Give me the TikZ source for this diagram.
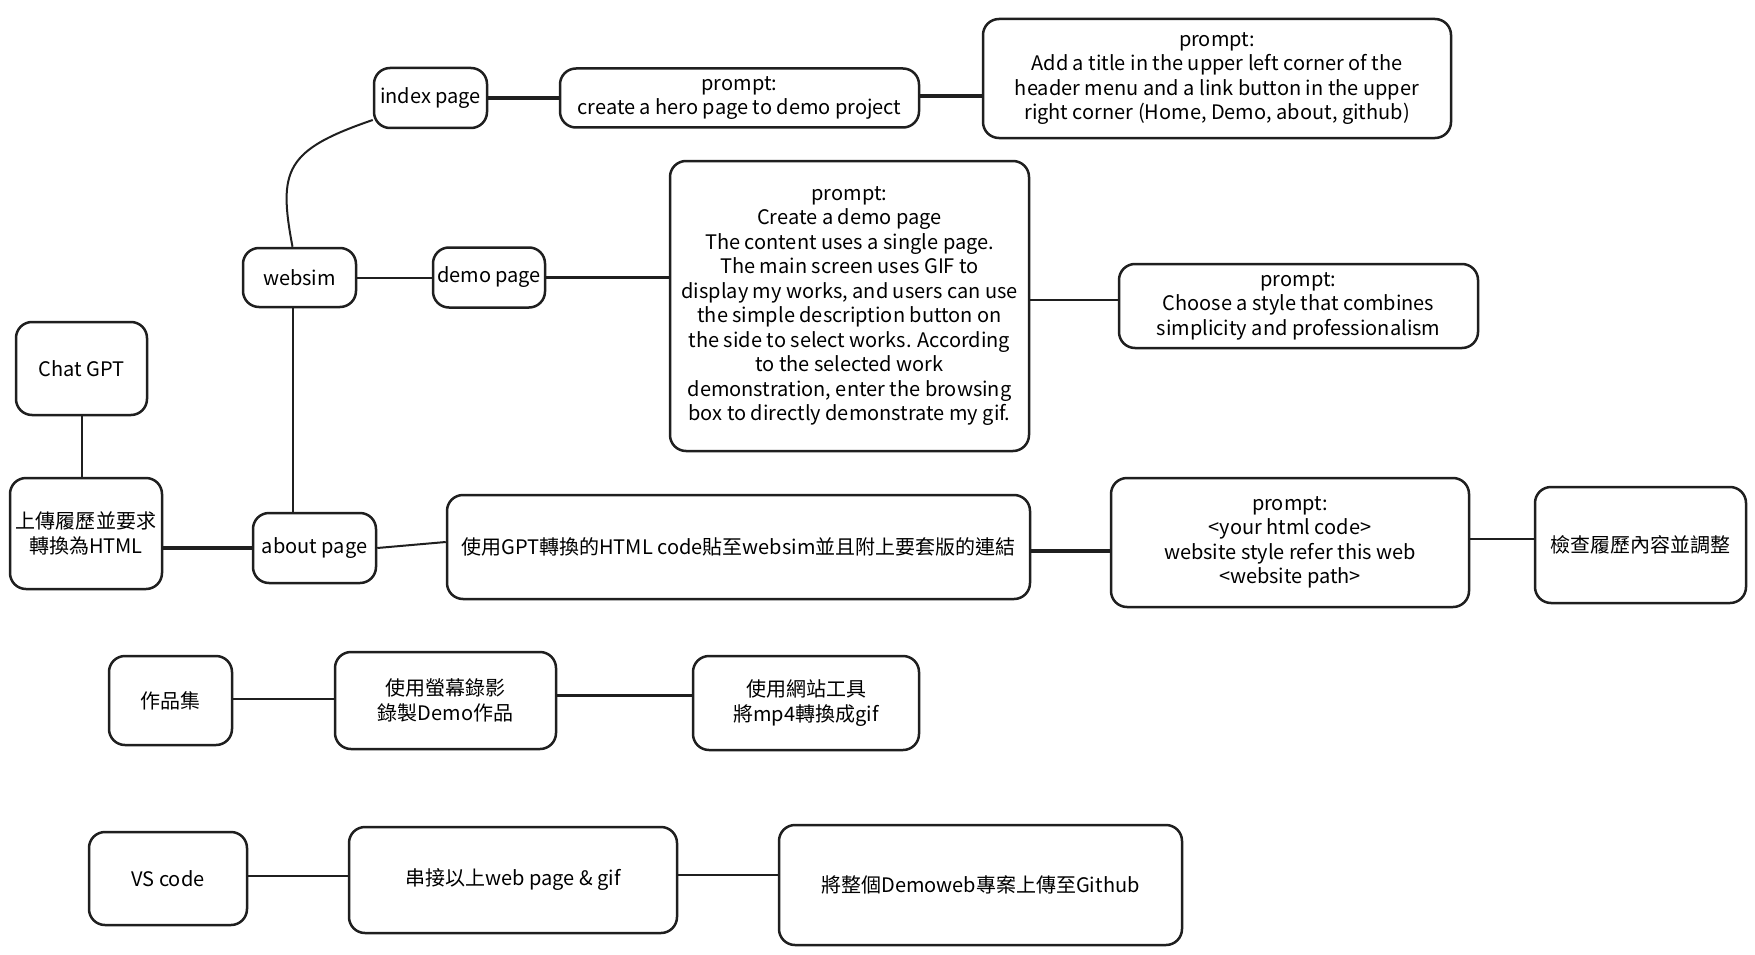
\documentclass[tikz,border=0pt]{standalone}
\usepackage{fontspec}
\setmainfont{Noto Sans CJK TC}
\usepackage{tikz}
\usetikzlibrary{positioning}

\begin{document}
\begin{tikzpicture}[x=1pt, y=-1pt,
        box/.style={rectangle, rounded corners=16pt, draw=black!88, line width=2.5pt, align=center, inner sep=0pt, font=\fontsize{20}{24.5}\selectfont},
        wire/.style={draw=black!88, line width=2pt},
        thickwire/.style={draw=black!88, line width=3.5pt}
      ]
        \useasboundingbox (0,0) rectangle (1755,955);

        \node[box, minimum width=113pt, minimum height=60pt]   (index)     at (430.5,98)     {index page};
        \node[box, minimum width=359pt, minimum height=59pt]   (hero)      [right of=index, node distance=309pt]  {prompt:\\create a hero page to demo project};
        \node[box, minimum width=468pt, minimum height=119pt]  (title)     at (1217,78.5)    {prompt:\\Add a title in the upper left corner of the\\header menu and a link button in the upper\\right corner (Home, Demo, about, github)};

        \node[box, minimum width=113pt, minimum height=59pt]   (websim)    at (299.5,277.5)  {websim};
        \node[box, minimum width=112pt, minimum height=60pt]   (demo)      [right of=websim, node distance=189.5pt]  {demo page};
        \node[box, minimum width=359pt, minimum height=290pt]  (demoprompt) at (849.5,306)   {prompt:\\Create a demo page\\The content uses a single page.\\The main screen uses GIF to\\display my works, and users can use\\the simple description button on\\the side to select works. According\\to the selected work\\demonstration, enter the browsing\\box to directly demonstrate my gif.};
        \node[box, minimum width=359pt, minimum height=84pt]   (style)     [right of=demoprompt, node distance=449pt]  {prompt:\\Choose a style that combines\\simplicity and professionalism};

        \node[box, minimum width=131pt, minimum height=93pt]   (chatgpt)   at (81.5,368.5)   {Chat GPT};
        \node[box, minimum width=152pt, minimum height=111pt]  (upload)    at (86,533.5)     {上傳履歷並要求\\轉換為HTML};
        \node[box, minimum width=123pt, minimum height=70pt]   (about)     at (314.5,548)    {about page};
        \node[box, minimum width=583pt, minimum height=104pt]  (paste)     at (738.5,547)    {使用GPT轉換的HTML code貼至websim並且附上要套版的連結};
        \node[box, minimum width=358pt, minimum height=129pt]  (refer)     at (1290,542.5)   {prompt:\\\textless your html code\textgreater\\website style refer this web\\\textless website path\textgreater};
        \node[box, minimum width=211pt, minimum height=116pt]  (check)     at (1640.5,545)   {檢查履歷內容並調整};

        \node[box, minimum width=123pt, minimum height=89pt]   (works)     at (170.5,700.5)  {作品集};
        \node[box, minimum width=221pt, minimum height=97pt]   (record)    [right of=works, node distance=275pt]  {使用螢幕錄影\\錄製Demo作品};
        \node[box, minimum width=226pt, minimum height=94pt]   (convert)   at (806,703)      {使用網站工具\\將mp4轉換成gif};

        \node[box, minimum width=158pt, minimum height=93pt]   (vscode)    at (168,878.5)    {VS code};
        \node[box, minimum width=328pt, minimum height=106pt]  (combine)   at (513,880)      {串接以上web page \& gif};
        \node[box, minimum width=403pt, minimum height=120pt]  (github)    at (980.5,885)    {將整個Demoweb專案上傳至Github};

        \draw[thickwire] (index.east) -- (index.east -| hero.west);
        \draw[thickwire] ([yshift=2pt]hero.east) -- ([yshift=2pt]hero.east -| title.west);
        \draw[wire] ([xshift=-7pt]websim.north) .. controls (278,170) and (285,150) .. ([yshift=-22pt]index.west);
        \draw[wire] (websim.east) -- (demo.west);
        \draw[thickwire] (demo.east) -- (demo.east -| demoprompt.west);
        \draw[wire] ([yshift=6pt]demoprompt.east) -- ([yshift=6pt]style.west);
        \draw[wire] ([xshift=-7pt]websim.south) -- ([xshift=-7pt]websim.south |- about.north);
        \draw[wire] (chatgpt.south) -- (chatgpt.south |- upload.north);
        \draw[thickwire] (about.west -| upload.east) -- (about.west);
        \draw[wire] (about.east) -- ([yshift=5pt]paste.west);
        \draw[thickwire] ([yshift=-4pt]paste.east) -- ([yshift=-4pt]paste.east -| refer.west);
        \draw[wire] ([yshift=4pt]refer.east) -- ([yshift=4pt]refer.east -| check.west);
        \draw[wire] ([yshift=2pt]works.east) -- ([yshift=2pt]works.east -| record.west);
        \draw[thickwire] ([yshift=5pt]record.east) -- ([yshift=5pt]record.east -| convert.west);
        \draw[wire] ([yshift=3pt]vscode.east) -- ([yshift=3pt]vscode.east -| combine.west);
        \draw[wire] ([yshift=5pt]combine.east) -- ([yshift=5pt]combine.east -| github.west);
      \end{tikzpicture}
\end{document}
